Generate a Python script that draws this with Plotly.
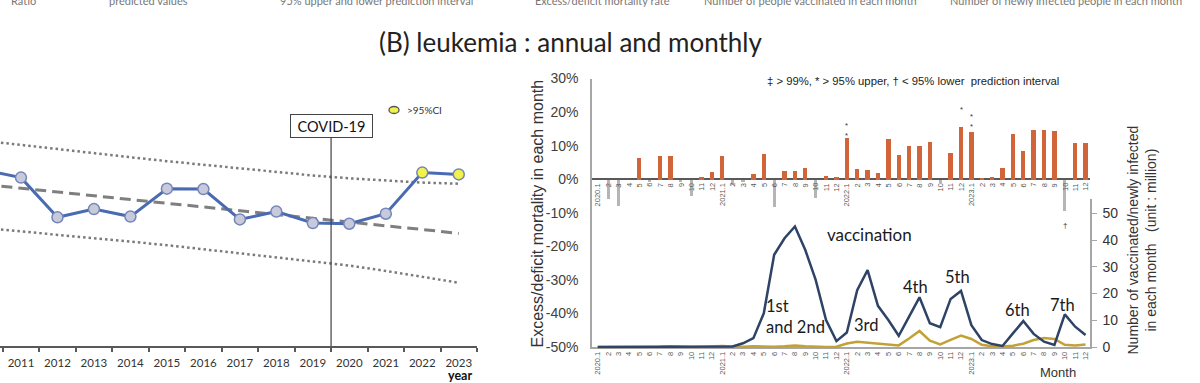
import plotly.graph_objects as go

W, H = 1200, 383


def px(x):
    return x / W


def py(y):
    return 1 - y / H


# ---------------- data: annual chart ----------------
years = [2010, 2011, 2012, 2013, 2014, 2015, 2016, 2017, 2018, 2019, 2020, 2021, 2022, 2023]
year_labels = ["2010", "2011", "2012", "2013", "2014", "2015", "2016", "2017", "2018", "2019",
               "2020", "2021", "2022", "2023"]
ratio = [1.092, 1.071, 0.960, 0.983, 0.962, 1.040, 1.039, 0.954, 0.976, 0.944, 0.942, 0.970, 1.085, 1.080]
predicted = [1.052, 1.041, 1.031, 1.020, 1.010, 0.999, 0.989, 0.978, 0.968, 0.958, 0.947, 0.936, 0.926, 0.915]
upper_pi = [1.174, 1.162, 1.150, 1.139, 1.128, 1.117, 1.107, 1.096, 1.086, 1.077, 1.069, 1.062, 1.057, 1.054]
lower_pi = [0.930, 0.921, 0.912, 0.902, 0.892, 0.882, 0.871, 0.860, 0.849, 0.838, 0.825, 0.810, 0.794, 0.777]
covid_start = 2019.5

# ---------------- data: monthly chart ----------------
month_labels = [
    "2020.1", "2", "3", "4", "5", "6", "7", "8", "9", "10", "11", "12",
    "2021.1", "2", "3", "4", "5", "6", "7", "8", "9", "10", "11", "12",
    "2022.1", "2", "3", "4", "5", "6", "7", "8", "9", "10", "11", "12",
    "2023.1", "2", "3", "4", "5", "6", "7", "8", "9", "10", "11", "12",
]
excess_pct = [
    0.0, -5.7, -7.8, 0.0, 6.6, -0.8, 7.1, 7.1, -0.8, -4.8, 0.7, 2.4,
    7.2, -1.5, -0.6, 1.8, 7.6, -8.1, 2.5, 2.5, 3.4, -5.5, 1.2, 0.9,
    12.3, 3.2, 3.0, 2.0, 12.1, 7.5, 10.0, 10.0, 11.3, -1.0, 8.0, 15.8,
    14.2, 0.6, 0.8, 3.5, 13.7, 8.6, 14.7, 14.7, 14.5, -9.3, 10.9, 10.9,
]
vaccinated_m = [
    0, 0, 0, 0, 0, 0, 0, 0, 0, 0, 0, 0,
    0, 0.2, 1.4, 3.3, 12.6, 34.5, 40.7, 45.1, 36.3, 25.1, 10.1, 2.2,
    5.4, 21.3, 28.8, 15.4, 10.1, 4.2, 11.4, 18.6, 8.9, 7.4, 18.0, 21.0,
    8.2, 2.6, 1.1, 0.4, 5.1, 9.7, 4.9, 2.0, 0.8, 12.2, 7.6, 4.5,
]
infected_m = [
    0.0, 0.0, 0.1, 0.1, 0.0, 0.0, 0.1, 0.3, 0.1, 0.0, 0.1, 0.3,
    0.4, 0.2, 0.1, 0.3, 0.2, 0.1, 0.3, 0.6, 0.3, 0.1, 0.0, 0.1,
    1.3, 2.0, 1.6, 1.2, 0.9, 0.6, 3.2, 6.0, 2.4, 1.0, 2.7, 4.3,
    3.0, 0.8, 0.3, 0.2, 0.5, 1.2, 2.6, 3.4, 3.0, 0.8, 0.6, 0.9,
]
# significance marks: (month index, mark, position in %)
sig_marks = [(24, "**", 14.6), (35, "*", 20.7), (36, "**", 17.3), (45, "†", -13.7)]
pct_ticks = [-50, -40, -30, -20, -10, 0, 10, 20, 30]
pct_tick_labels = ["-50%", "-40%", "-30%", "-20%", "-10%", "0%", "10%", "20%", "30%"]
vacc_ticks = [0, 10, 20, 30, 40, 50]
# dose labels: (text, month position, value position, anchor)
dose_labels = [
    ("vaccination", 26.2, 42.0, "center"),
    ("1st<br>and 2nd", 16.05, 11.6, "left"),
    ("3rd", 25.85, 8.2, "center"),
    ("4th", 30.6, 22.5, "center"),
    ("5th", 34.7, 26.2, "center"),
    ("6th", 40.4, 13.9, "center"),
    ("7th", 44.8, 15.7, "center"),
]
idx = list(range(len(month_labels)))

# cut-off legend strip at the very top: (text, centre x in px)
top_strip = [
    ("Ratio", 23),
    ("predicted values", 148),
    ("95% upper and lower prediction interval", 376),
    ("Excess/deficit mortality rate", 603),
    ("Number of people vaccinated in each month", 810),
    ("Number of newly infected people in each month", 1066),
]

CAL = "Lato"
ARIAL = "Liberation Sans"


def paper_note(x, y, text, font, **kw):
    d = dict(x=px(x), y=py(y), xref="paper", yref="paper", showarrow=False,
             xanchor="center", yanchor="middle", text=text, font=font)
    d.update(kw)
    return d


fig = go.Figure()

# ---------------- annual chart traces ----------------
for band in (upper_pi, lower_pi):
    fig.add_trace(go.Scatter(
        x=years, y=band, mode="lines", xaxis="x", yaxis="y",
        line=dict(color="#7a7a7a", width=2.5, dash="2.5px,3px"), hoverinfo="skip"))
fig.add_trace(go.Scatter(
    x=years, y=predicted, mode="lines", xaxis="x", yaxis="y",
    line=dict(color="#7f7f7f", width=3, dash="11px,6px"), hoverinfo="skip"))
marker_fill = ["#f2f24e" if r > u else "#c7cadb" for r, u in zip(ratio, upper_pi)]
fig.add_trace(go.Scatter(
    x=years, y=ratio, mode="lines+markers", xaxis="x", yaxis="y",
    line=dict(color="#4a6bb1", width=3),
    marker=dict(size=11, color=marker_fill, line=dict(color="#7485b9", width=1.5))))

# ---------------- monthly chart traces ----------------
bar_colors = ["#d2643a" if v >= 0 else "#b5b5b5" for v in excess_pct]
bar_widths = [0.42 if v >= 0 else 0.3 for v in excess_pct]
fig.add_trace(go.Bar(
    x=idx, y=excess_pct, width=bar_widths, xaxis="x2", yaxis="y2",
    marker=dict(color=bar_colors, line=dict(width=0))))
fig.add_trace(go.Scatter(
    x=idx, y=infected_m, mode="lines", xaxis="x2", yaxis="y3",
    line=dict(color="#c2a136", width=2.5)))
fig.add_trace(go.Scatter(
    x=idx, y=vaccinated_m, mode="lines", xaxis="x2", yaxis="y3",
    line=dict(color="#2e4366", width=2.5)))

annotations = []

# title
annotations.append(paper_note(570, 42, "(B) leukemia : annual and monthly",
                              dict(family=CAL, size=26, color="#222")))

# top cut-off legend strip
for t, cx in top_strip:
    annotations.append(paper_note(cx, 0, t, dict(family=CAL, size=11, color="#777")))

# annual chart labels
annotations.append(dict(
    x=covid_start, y=py(126), xref="x", yref="paper", showarrow=False,
    xanchor="center", yanchor="middle",
    text="COVID-19", font=dict(family=CAL, size=14.5, color="#111"),
    width=81, height=22, bordercolor="#444", borderwidth=1, borderpad=0, bgcolor="white"))
annotations.append(paper_note(405, 110, ">95%CI", dict(family=CAL, size=10, color="#333"),
                              xanchor="left"))
annotations.append(paper_note(460, 375, "<b>year</b>", dict(family=CAL, size=12.5, color="#111")))

# monthly chart texts
annotations.append(paper_note(537, 213.5, "Excess/deficit mortality in each month",
                              dict(family=ARIAL, size=16, color="#333"), textangle=-90))
annotations.append(paper_note(
    1141.5, 240,
    "Number of vaccinated/newly infected<br>in each month\u00a0\u00a0\u00a0(unit : million)",
    dict(family=ARIAL, size=14, color="#333"), textangle=-90))
annotations.append(paper_note(1058, 372, "Month", dict(family=ARIAL, size=13, color="#333")))
annotations.append(paper_note(
    913, 81, "‡ > 99%, * > 95% upper, † < 95% lower\u00a0\u00a0prediction interval",
    dict(family=ARIAL, size=11.3, color="#222")))

# month labels along the zero line
for i, lab in zip(idx, month_labels):
    annotations.append(dict(
        x=i, y=0, xref="x2", yref="y2", showarrow=False, textangle=-90,
        xanchor="center", yanchor="top", yshift=-2, text=lab,
        font=dict(family=ARIAL, size=7.5, color="#595959")))

# significance marks (double marks stacked vertically)
for i, mark, pos in sig_marks:
    annotations.append(dict(
        x=i, y=pos, xref="x2", yref="y2", showarrow=False, text="<br>".join(mark),
        xanchor="center", yanchor="middle",
        font=dict(family=ARIAL, size=8 if mark == "†" else 7.5, color="#333")))

# dose labels
for t, xm, yv, anc in dose_labels:
    annotations.append(dict(
        x=xm, y=yv, xref="x2", yref="y3", showarrow=False, text=t,
        xanchor=anc, yanchor="middle", align="left",
        font=dict(family=CAL, size=17 if t == "vaccination" else 16.5, color="#1a1a1a")))

shapes = [
    dict(type="line", xref="x", yref="paper", x0=covid_start, x1=covid_start,
         y0=py(346), y1=py(137), line=dict(color="#404040", width=1.2), layer="above"),
    dict(type="circle", xref="paper", yref="paper", x0=px(389), x1=px(399),
         y0=py(113.5), y1=py(106.5), fillcolor="#f2f24e", line=dict(color="#555", width=1.3)),
]

fig.update_layout(
    width=W, height=H, margin=dict(l=0, r=0, t=0, b=0, pad=0, autoexpand=False),
    paper_bgcolor="white", plot_bgcolor="rgba(0,0,0,0)",
    showlegend=False, bargap=0, hovermode=False,
    annotations=annotations, shapes=shapes,
    xaxis=dict(
        domain=[0, px(477)], range=[2010.425, 2023.5], anchor="y",
        showline=True, linecolor="#595959", linewidth=1.5,
        tickmode="array", tickvals=years, ticktext=year_labels, ticks="",
        ticklabelstandoff=5,
        tickfont=dict(family=CAL, size=11.5, color="#333"),
        minor=dict(tick0=2010.5, dtick=1, ticks="outside", ticklen=4,
                   tickcolor="#595959", tickwidth=1.5, showgrid=False),
        showgrid=False, zeroline=False, automargin=False, fixedrange=True),
    yaxis=dict(
        domain=[py(346), py(60)], range=[0.6, 1.4], anchor="x",
        visible=False, showgrid=False, zeroline=False, automargin=False, fixedrange=True),
    xaxis2=dict(
        domain=[px(592), px(1090)], range=[-0.549, 47.428], anchor="y2",
        showline=True, linecolor="#a6a6a6", linewidth=1.5,
        tickmode="array", tickvals=idx, ticktext=month_labels, tickangle=-90, ticks="",
        tickfont=dict(family=ARIAL, size=7.5, color="#595959"),
        showgrid=False, zeroline=False, automargin=False, fixedrange=True),
    yaxis2=dict(
        domain=[py(347), py(78.5)], range=[-50, 30], anchor="x2",
        showline=True, linecolor="#a6a6a6", linewidth=1.5,
        tickmode="array", tickvals=pct_ticks, ticktext=pct_tick_labels, ticks="",
        ticklabelstandoff=9,
        tickfont=dict(family=ARIAL, size=14, color="#404040"),
        zeroline=True, zerolinecolor="#595959", zerolinewidth=2,
        showgrid=False, automargin=False, fixedrange=True),
    yaxis3=dict(
        domain=[py(348.6), py(199)], range=[-0.6, 55.4], anchor="x2", side="right",
        showline=True, linecolor="#a6a6a6", linewidth=1.5,
        tickmode="array", tickvals=vacc_ticks, ticks="outside", ticklen=5,
        tickcolor="#a6a6a6", ticklabelstandoff=3,
        tickfont=dict(family=ARIAL, size=14, color="#333"),
        showgrid=False, zeroline=False, automargin=False, fixedrange=True),
)

fig.write_html("out.html", config={"displayModeBar": False},
               post_script="document.body.style.margin='0';")
